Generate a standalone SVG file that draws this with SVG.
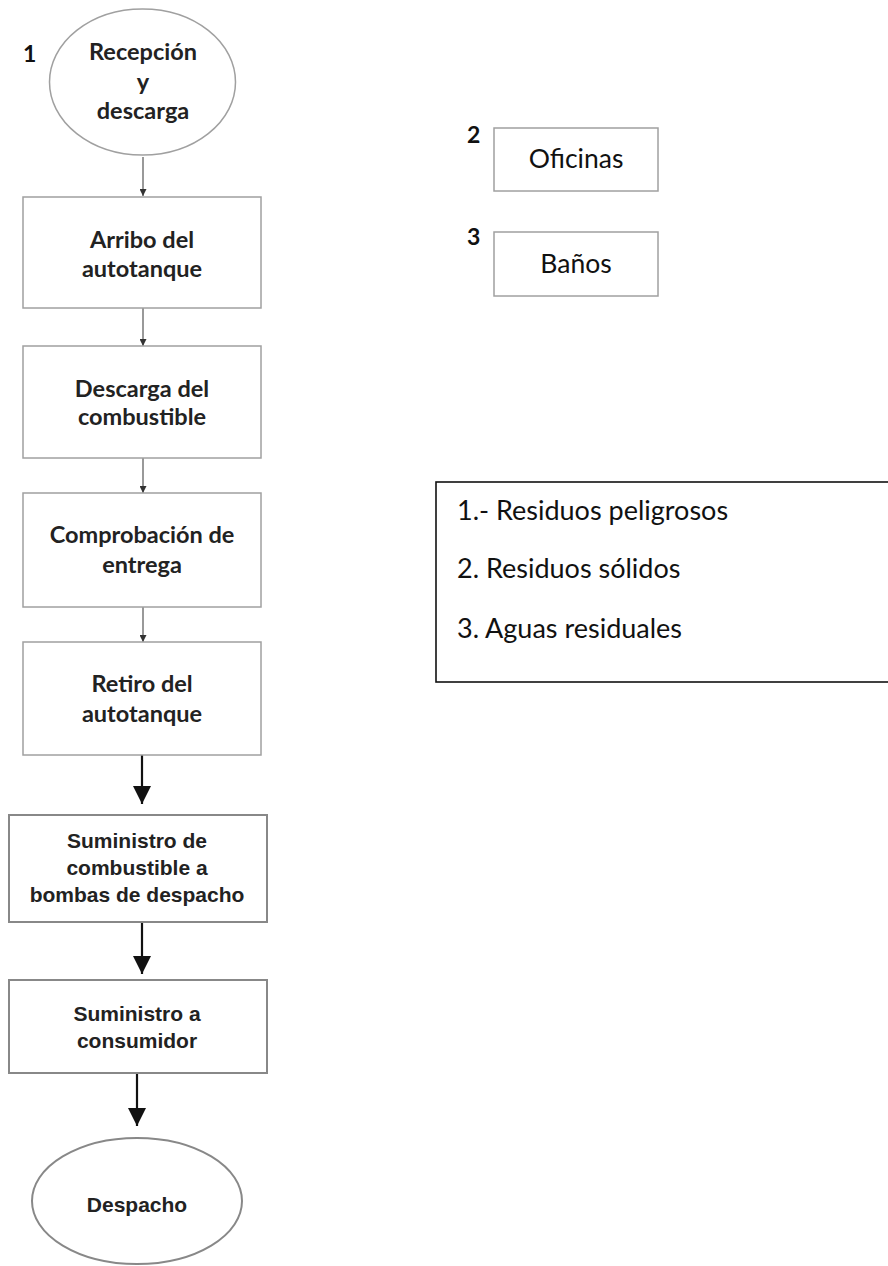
<svg xmlns="http://www.w3.org/2000/svg" width="888" height="1266" viewBox="0 0 888 1266">
<defs>
<style>
.bg{fill:#fff}
.n1{fill:#fff;stroke:#a0a0a0;stroke-width:1.5}
.n2{fill:#fff;stroke:#888;stroke-width:2}
.t1{font-family:Lato,"Open Sans",sans-serif;font-weight:bold;font-size:23.5px;fill:#222;text-anchor:middle}
.t2{font-family:"Liberation Sans",Arial,sans-serif;font-weight:bold;font-size:21px;fill:#222;text-anchor:middle}
.num{font-family:Lato,"Open Sans",sans-serif;font-weight:bold;font-size:23px;fill:#111}
.t3{font-family:Lato,"Open Sans",sans-serif;font-size:26.5px;fill:#111;text-anchor:middle}
.lg{font-family:Lato,"Open Sans",sans-serif;font-size:27px;fill:#111}
.c1{stroke:#555;stroke-width:1.2;fill:none}
.c2{stroke:#111;stroke-width:2.2;fill:none}
</style>
<marker id="ah1" viewBox="0 0 10 10" refX="10" refY="5" markerWidth="7" markerHeight="7" markerUnits="userSpaceOnUse" orient="auto"><path d="M0,0 L10,5 L0,10 Z" fill="#333"/></marker>
<marker id="ah2" viewBox="0 0 10 10" refX="10" refY="5" markerWidth="18" markerHeight="18" markerUnits="userSpaceOnUse" orient="auto"><path d="M0,0 L10,5 L0,10 Z" fill="#111"/></marker>
</defs>
<rect class="bg" x="0" y="0" width="888" height="1266"/>

<g id="connectors">
<line class="c1" x1="143" y1="157" x2="143" y2="196" marker-end="url(#ah1)"/>
<line class="c1" x1="143" y1="308" x2="143" y2="346" marker-end="url(#ah1)"/>
<line class="c1" x1="143" y1="458" x2="143" y2="493" marker-end="url(#ah1)"/>
<line class="c1" x1="143" y1="607" x2="143" y2="642" marker-end="url(#ah1)"/>
<line class="c2" x1="142" y1="755" x2="142" y2="804" marker-end="url(#ah2)"/>
<line class="c2" x1="142" y1="922" x2="142" y2="974" marker-end="url(#ah2)"/>
<line class="c2" x1="137" y1="1073" x2="137" y2="1126" marker-end="url(#ah2)"/>
</g>

<g id="n-recepcion">
<ellipse class="n1" cx="142.5" cy="82" rx="93" ry="73"/>
<text class="t1" x="143" y="60">Recepción</text>
<text class="t1" x="143" y="90">y</text>
<text class="t1" x="143" y="119">descarga</text>
</g>
<g id="label-1"><text class="num" x="23" y="62">1</text></g>

<g id="n-arribo">
<rect class="n1" x="23" y="197" width="238" height="111"/>
<text class="t1" x="142" y="248">Arribo del</text>
<text class="t1" x="142" y="277">autotanque</text>
</g>

<g id="n-descarga">
<rect class="n1" x="23" y="346" width="238" height="112"/>
<text class="t1" x="142" y="397">Descarga del</text>
<text class="t1" x="142" y="425">combustible</text>
</g>

<g id="n-comprobacion">
<rect class="n1" x="23" y="493" width="238" height="114"/>
<text class="t1" x="142" y="543">Comprobación de</text>
<text class="t1" x="142" y="573">entrega</text>
</g>

<g id="n-retiro">
<rect class="n1" x="23" y="642" width="238" height="113"/>
<text class="t1" x="142" y="692">Retiro del</text>
<text class="t1" x="142" y="722">autotanque</text>
</g>

<g id="n-suministro-bombas">
<rect class="n2" x="9" y="815" width="258" height="107"/>
<text class="t2" x="137" y="848">Suministro de</text>
<text class="t2" x="137" y="875">combustible a</text>
<text class="t2" x="137" y="902">bombas de despacho</text>
</g>

<g id="n-suministro-consumidor">
<rect class="n2" x="9" y="980" width="258" height="93"/>
<text class="t2" x="137" y="1021">Suministro a</text>
<text class="t2" x="137" y="1048">consumidor</text>
</g>

<g id="n-despacho">
<ellipse class="n2" cx="137" cy="1201" rx="105" ry="63"/>
<text class="t2" x="137" y="1212">Despacho</text>
</g>

<g id="n-oficinas">
<text class="num" x="467" y="143">2</text>
<rect class="n1" x="494" y="128" width="164" height="63"/>
<text class="t3" x="576" y="168">Oficinas</text>
</g>

<g id="n-banos">
<text class="num" x="467" y="245">3</text>
<rect class="n1" x="494" y="232" width="164" height="64"/>
<text class="t3" x="576" y="273">Baños</text>
</g>

<g id="legend">
<rect x="436" y="482" width="460" height="200" fill="#fff" stroke="#111" stroke-width="1.6"/>
<text class="lg" x="457" y="520">1.- Residuos peligrosos</text>
<text class="lg" x="457" y="578">2. Residuos sólidos</text>
<text class="lg" x="457" y="638">3. Aguas residuales</text>
</g>
</svg>
